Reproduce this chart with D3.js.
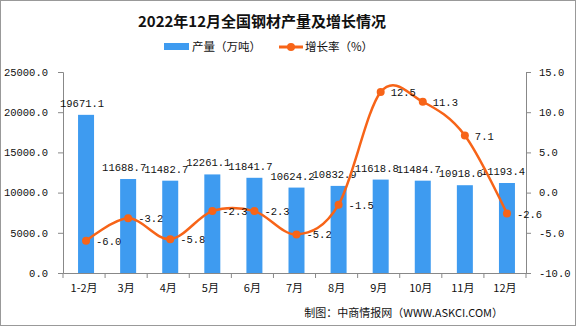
<!DOCTYPE html>
<html><head><meta charset="utf-8">
<script src="https://cdn.jsdelivr.net/npm/d3@7"></script>
<style>body{margin:0;background:#fff}svg{display:block}</style>
</head><body>
<script>
const categories = ["1-2月","3月","4月","5月","6月","7月","8月","9月","10月","11月","12月"];
const production = [19671.1,11688.7,11482.7,12261.1,11841.7,10624.2,10832.9,11618.8,11484.7,10918.6,11193.4];
const growth = [-6.0,-3.2,-5.8,-2.3,-2.3,-5.2,-1.5,12.5,11.3,7.1,-2.6];
const leftTicks = [0,5000,10000,15000,20000,25000];
const rightTicks = [-10,-5,0,5,10,15];

const W=576,H=326;
const m={l:63,r:50,t:72,b:53};
const svg=d3.select("body").append("svg").attr("width",W).attr("height",H);
svg.append("rect").attr("x",0.5).attr("y",0.5).attr("width",W-1).attr("height",H-1).attr("fill","#fff").attr("stroke","#999");

const mono="'Liberation Mono','DejaVu Sans Mono',monospace";
const cjk="'Noto Sans CJK SC','Noto Sans',sans-serif";

const x=d3.scaleBand().domain(categories).range([m.l,W-m.r]).paddingInner(0).paddingOuter(0);
const yL=d3.scaleLinear().domain([0,25000]).range([H-m.b,m.t]);
const yR=d3.scaleLinear().domain([-10,15]).range([H-m.b,m.t]);

svg.append("text").attr("x",262).attr("y",27).attr("text-anchor","middle")
  .attr("font-family",cjk).attr("font-weight","bold").attr("font-size",15).attr("fill","#111")
  .text("2022年12月全国钢材产量及增长情况");

// legend
svg.append("rect").attr("x",164).attr("y",43).attr("width",25).attr("height",7).attr("fill","#3E9BF0");
svg.append("text").attr("x",192).attr("y",51).attr("font-family",cjk).attr("font-size",11.5).attr("fill","#111").text("产量（万吨）");
svg.append("line").attr("x1",279).attr("x2",303).attr("y1",47).attr("y2",47).attr("stroke","#F76418").attr("stroke-width",3);
svg.append("circle").attr("cx",291).attr("cy",47).attr("r",4).attr("fill","#F76418");
svg.append("text").attr("x",305).attr("y",51).attr("font-family",cjk).attr("font-size",11.5).attr("fill","#111").text("增长率（%）");

// axes
const axL=svg.append("g").attr("transform",`translate(${m.l},0)`)
  .call(d3.axisLeft(yL).tickValues(leftTicks).tickFormat(d=>d3.format(".1f")(d)).tickSize(5).tickPadding(10));
const axR=svg.append("g").attr("transform",`translate(${W-m.r},0)`)
  .call(d3.axisRight(yR).tickValues(rightTicks).tickFormat(d=>d3.format(".1f")(d).replace("−","-")).tickSize(5).tickPadding(8));
const axB=svg.append("g").attr("transform",`translate(0,${H-m.b})`)
  .call(d3.axisBottom(x).tickSize(0).tickPadding(11));
[axL,axR,axB].forEach(a=>{a.selectAll("path").attr("stroke","#888");a.selectAll("line").attr("stroke","#888");
  a.selectAll("text").attr("fill","#111").attr("font-size",10.5).attr("font-family",mono);});
axB.selectAll("text").attr("font-family",cjk).attr("font-size",11);
// band boundary ticks
const bounds=categories.map(c=>x(c)).concat([x.range()[1]]);
svg.append("g").selectAll("line").data(bounds).join("line")
  .attr("x1",d=>d).attr("x2",d=>d).attr("y1",H-m.b).attr("y2",H-m.b+5).attr("stroke","#888");

// bars
const bw=16;
svg.append("g").selectAll("rect").data(production).join("rect")
  .attr("x",(d,i)=>x(categories[i])+x.bandwidth()/2-bw/2+2).attr("width",bw)
  .attr("y",d=>yL(d)).attr("height",d=>yL(0)-yL(d)).attr("fill","#3E9BF0");
svg.append("g").selectAll("text").data(production).join("text")
  .attr("x",(d,i)=>x(categories[i])+x.bandwidth()/2-2).attr("y",d=>yL(d)-8)
  .attr("text-anchor","middle").attr("font-family",mono).attr("font-size",10.5).attr("fill","#111")
  .text(d=>d3.format(".1f")(d));

// line
const cx=i=>x(categories[i])+x.bandwidth()/2+2;
const line=d3.line().x((d,i)=>cx(i)).y(d=>yR(d)).curve(d3.curveCardinal.tension(0));
svg.append("path").datum(growth).attr("d",line).attr("fill","none").attr("stroke","#F76418").attr("stroke-width",2.5);
svg.append("g").selectAll("circle").data(growth).join("circle")
  .attr("cx",(d,i)=>cx(i)).attr("cy",d=>yR(d)).attr("r",4).attr("fill","#F76418");
svg.append("g").selectAll("text").data(growth).join("text")
  .attr("x",(d,i)=>cx(i)+10).attr("y",d=>yR(d)+4)
  .attr("font-family",mono).attr("font-size",10.5).attr("fill","#111")
  .text(d=>d3.format(".1f")(d).replace("−","-"));

svg.append("text").attr("x",503).attr("y",317).attr("text-anchor","end")
  .attr("font-family",cjk).attr("font-size",11).attr("fill","#111").text("制图：中商情报网（WWW.ASKCI.COM）");
</script>
</body></html>
